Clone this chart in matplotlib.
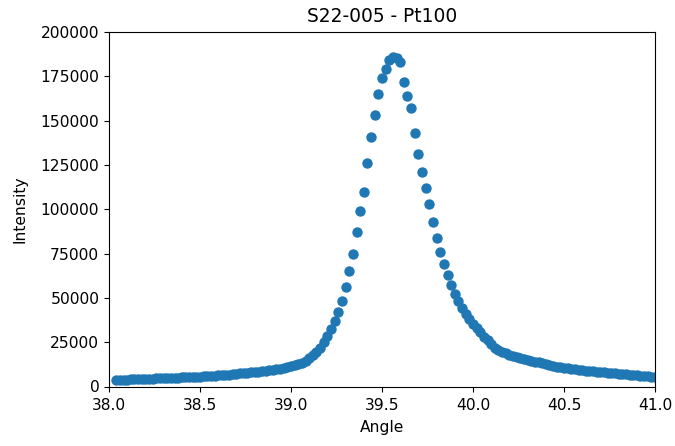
import numpy as np
import matplotlib
matplotlib.use("Agg")
import matplotlib.pyplot as plt

title = "S22-005 - Pt100"
angle_start, angle_step, n_points = 38.04, 0.02, 149
angle = np.round(angle_start + angle_step * np.arange(n_points), 2)

intensity = [
    3700, 3750, 3800, 3850, 3950, 4000, 4100, 4200, 4300, 4400,
    4500, 4600, 4650, 4700, 4750, 4800, 4900, 5000, 5100, 5200,
    5300, 5400, 5500, 5600, 5700, 5800, 5950, 6100, 6250, 6400,
    6550, 6750, 6950, 7150, 7350, 7550, 7750, 7950, 8150, 8350,
    8600, 8850, 9100, 9400, 9700, 10100, 10500, 11000, 11500, 12000,
    12700, 13500, 14500, 16000, 17500, 19500, 22000, 25000, 28500, 32500,
    37000, 42000, 48500, 56000, 65000, 75000, 87000, 99000, 110000, 126000,
    141000, 153000, 165000, 174000, 179000, 184000, 186000, 185500, 183000, 172000,
    164000, 157000, 143000, 131000, 121000, 112000, 103000, 93000, 84000, 76000,
    69000, 63000, 57000, 52000, 48000, 44500, 41000, 38000, 35500, 33000,
    30500, 28000, 26000, 24000, 22000, 20500, 19500, 18700, 17900, 17200,
    16600, 16100, 15600, 15100, 14600, 14100, 13600, 13100, 12600, 12100,
    11600, 11200, 10900, 10600, 10300, 10000, 9700, 9400, 9200, 9000,
    8800, 8600, 8400, 8200, 8000, 7800, 7600, 7400, 7200, 7000,
    6800, 6650, 6500, 6300, 6100, 5900, 5700, 5500, 5300,
]

plt.rcParams["font.size"] = 11.2
fig = plt.figure(figsize=(6.75, 4.46), dpi=100)
left, right, bottom, top = 109 / 675, 655 / 675, 1 - 386.5 / 446, 1 - 32 / 446
ax = fig.add_axes([left, bottom, right - left, top - bottom])
ax.scatter(angle, intensity, color="#1f77b4", s=42)
ax.set_xlim(38.0, 41.0)
ax.set_ylim(0, 200000)
ax.set_title(title, fontsize=13.4, pad=7)
ax.tick_params(axis="x", pad=5)
ax.set_xlabel("Angle", labelpad=5)
ax.set_ylabel("Intensity", labelpad=9)
fig.savefig("out.png", dpi=100)
